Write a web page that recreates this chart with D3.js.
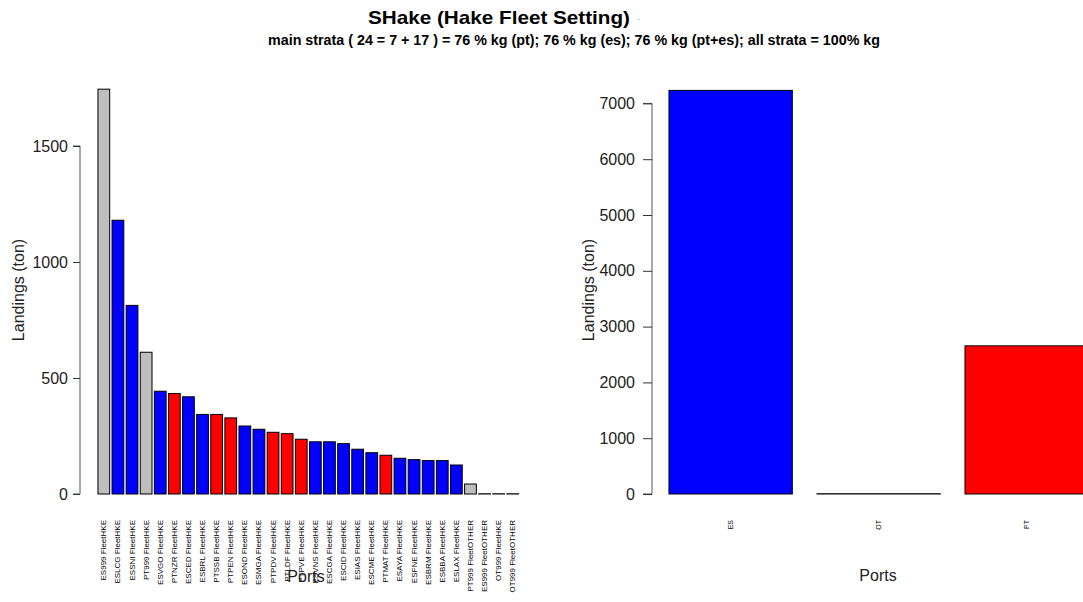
<!DOCTYPE html>
<html>
<head>
<meta charset="utf-8">
<script src="https://cdn.jsdelivr.net/npm/d3@7"></script>
<style>
body { margin: 0; background: #fff; }
text { font-family: "Liberation Sans", Arial, sans-serif; }
</style>
</head>
<body>
<div id="chart"></div>
<script>
// strata (port x fleet) landings, tons
var strata = ["ES999 FleetHKE","ESLCG FleetHKE","ESSNI FleetHKE","PT999 FleetHKE","ESVGO FleetHKE",
  "PTNZR FleetHKE","ESCED FleetHKE","ESBRL FleetHKE","PTSSB FleetHKE","PTPEN FleetHKE",
  "ESOND FleetHKE","ESMGA FleetHKE","PTPDV FleetHKE","PTLDF FleetHKE","PTPVE FleetHKE",
  "ESVNS FleetHKE","ESCGA FleetHKE","ESCID FleetHKE","ESIAS FleetHKE","ESCME FleetHKE",
  "PTMAT FleetHKE","ESAYA FleetHKE","ESFNE FleetHKE","ESBRM FleetHKE","ESBBA FleetHKE",
  "ESLAX FleetHKE","PT999 FleetOTHER","ES999 FleetOTHER","OT999 FleetHKE","OT999 FleetOTHER"];
var strataTons = [1745,1180,813,611,443,433,419,343,343,328,293,279,266,260,236,
  225,225,217,193,178,167,154,148,144,144,125,43,1,1,1];
var strataGroup = ["g","b","b","g","b","r","b","b","r","r","b","b","r","r","r",
  "b","b","b","b","b","r","b","b","b","b","b","g","g","g","g"];

// totals by country
var countries = ["ES","OT","PT"];
var countryTons = [7233, 5, 2655];

var leftTicks = [0, 500, 1000, 1500];
var rightTicks = [0, 1000, 2000, 3000, 4000, 5000, 6000, 7000];

var colorOf = {g: "#bebebe", b: "#0000ff", r: "#ff0000"};
var countryColor = {ES: "#0000ff", OT: "#bebebe", PT: "#ff0000"};

var W = 1083, H = 602;
var svg = d3.select("#chart").append("svg")
  .attr("width", W).attr("height", H);

// titles
svg.append("text")
  .attr("x", 499).attr("y", 24)
  .attr("text-anchor", "middle")
  .attr("font-weight", "bold").attr("font-size", 19)
  .attr("textLength", 262).attr("lengthAdjust", "spacingAndGlyphs")
  .text("SHake (Hake Fleet Setting)");
svg.append("text")
  .attr("x", 637).attr("y", 22)
  .attr("font-size", 9).attr("fill", "#888")
  .text("\u00b7");
svg.append("text")
  .attr("x", 574).attr("y", 45)
  .attr("text-anchor", "middle")
  .attr("font-weight", "bold").attr("font-size", 14)
  .attr("textLength", 612).attr("lengthAdjust", "spacingAndGlyphs")
  .text("main strata ( 24 = 7 + 17 ) = 76 % kg (pt); 76 % kg (es); 76 % kg (pt+es); all strata = 100% kg");

// ---- left panel: strata
var x1 = d3.scaleBand().domain(strata).range([95.6, 521]).paddingInner(1/6).paddingOuter(1/6);
var y1 = d3.scaleLinear().domain([0, 1500]).range([494, 146]);

var left = svg.append("g");
left.selectAll("rect").data(strata).enter().append("rect")
  .attr("x", function(d) { return x1(d); })
  .attr("y", function(d, i) { return y1(strataTons[i]); })
  .attr("width", x1.bandwidth())
  .attr("height", function(d, i) { return y1(0) - y1(strataTons[i]); })
  .attr("fill", function(d, i) { return colorOf[strataGroup[i]]; })
  .attr("stroke", "#000").attr("stroke-width", 1);

var ax1 = left.append("g").attr("transform", "translate(80,0)")
  .call(d3.axisLeft(y1).tickValues(leftTicks).tickSize(7).tickPadding(5).tickFormat(d3.format("d")));
ax1.select(".domain").attr("stroke", "#555").attr("d", "M-7," + y1(0) + "H0V" + y1(1500) + "H-7");
ax1.selectAll(".tick line").attr("stroke", "#333");
ax1.selectAll(".tick text").attr("font-size", 16).attr("fill", "#222")
  .attr("font-family", "Liberation Sans, Arial, sans-serif");

left.selectAll(".xl").data(strata).enter().append("text")
  .attr("class", "xl")
  .attr("transform", function(d) { return "translate(" + (x1(d) + x1.bandwidth() / 2) + ",520) rotate(-90)"; })
  .attr("text-anchor", "end").attr("dominant-baseline", "central")
  .attr("font-size", 8).attr("fill", "#000")
  .text(function(d) { return d; });

left.append("text").attr("transform", "translate(24,290) rotate(-90)")
  .attr("text-anchor", "middle").attr("font-size", 16).attr("fill", "#222")
  .text("Landings (ton)");
left.append("text").attr("x", 306).attr("y", 582)
  .attr("text-anchor", "middle").attr("font-size", 16).attr("fill", "#222")
  .text("Ports");

// ---- right panel: country totals
var x2 = d3.scaleBand().domain(countries).range([644.3, 1113]).paddingInner(1/6).paddingOuter(1/6);
var y2 = d3.scaleLinear().domain([0, 7000]).range([494, 103.4]);

var right = svg.append("g");
right.selectAll("rect").data(countries).enter().append("rect")
  .attr("x", function(d) { return x2(d); })
  .attr("y", function(d, i) { return y2(countryTons[i]); })
  .attr("width", x2.bandwidth())
  .attr("height", function(d, i) { return y2(0) - y2(countryTons[i]); })
  .attr("fill", function(d) { return countryColor[d]; })
  .attr("stroke", "#000").attr("stroke-width", 1);

var ax2 = right.append("g").attr("transform", "translate(652,0)")
  .call(d3.axisLeft(y2).tickValues(rightTicks).tickSize(9).tickPadding(8).tickFormat(d3.format("d")));
ax2.select(".domain").attr("stroke", "#555").attr("d", "M-9," + y2(0) + "H0V" + y2(7000) + "H-9");
ax2.selectAll(".tick line").attr("stroke", "#333");
ax2.selectAll(".tick text").attr("font-size", 16).attr("fill", "#222")
  .attr("font-family", "Liberation Sans, Arial, sans-serif");

right.selectAll(".xl2").data(countries).enter().append("text")
  .attr("class", "xl2")
  .attr("transform", function(d) { return "translate(" + (x2(d) + x2.bandwidth() / 2) + ",520) rotate(-90)"; })
  .attr("text-anchor", "end").attr("dominant-baseline", "central")
  .attr("font-size", 7).attr("fill", "#000")
  .text(function(d) { return d; });

right.append("text").attr("transform", "translate(594,290) rotate(-90)")
  .attr("text-anchor", "middle").attr("font-size", 16).attr("fill", "#222")
  .text("Landings (ton)");
right.append("text").attr("x", 878).attr("y", 581)
  .attr("text-anchor", "middle").attr("font-size", 16).attr("fill", "#222")
  .text("Ports");
</script>
</body>
</html>
